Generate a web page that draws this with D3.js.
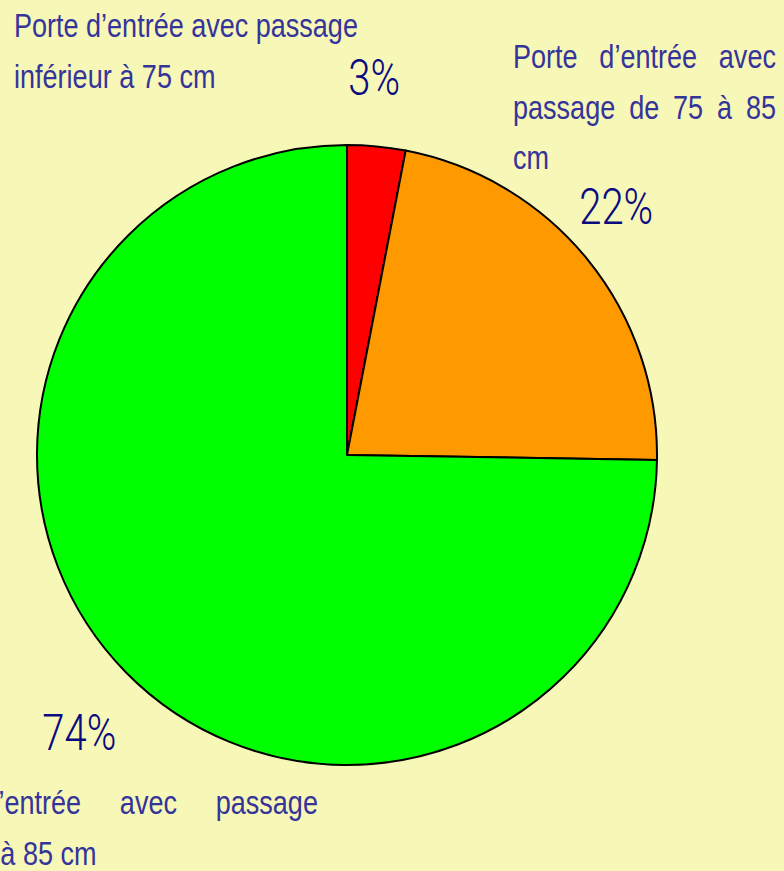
<!DOCTYPE html>
<html>
<head>
<meta charset="utf-8">
<script src="https://cdn.jsdelivr.net/npm/d3@7"></script>
<style>
  html, body { margin: 0; padding: 0; background: #f7f7b7; overflow: hidden; }
  svg { display: block; }
</style>
</head>
<body>
<script>
"use strict";
(function(){
    // data
    const categories = [
        "Porte d’entrée avec passage inférieur à 75 cm",
        "Porte d’entrée avec passage de 75 à 85 cm",
        "Porte d’entrée avec passage supérieur à 85 cm"
    ]
    const values = [3, 22, 74]
    const percentLabels = ["3%", "22%", "74%"]

    // line breaks of each category label, as in the picture
    const labelLines = [
        ["Porte d’entrée avec passage", "inférieur à 75 cm"],
        ["Porte d’entrée avec", "passage de 75 à 85", "cm"],
        ["Porte d’entrée avec passage", "supérieur à 85 cm"]
    ]

    const sliceColors = ["#ff0000", "#ff9900", "#00ff00"]

    const measurements = {
        width: 784,
        height: 871,
        cx: 347,
        cy: 455,
        radius: 310
    }

    // text boxes for the category labels (x, first baseline, box width)
    const labelBoxes = [
        { x: 14, y: 37, w: 344 },
        { x: 513, y: 68, w: 263 },
        { x: -120, y: 814, w: 438 }
    ]
    const lineHeight = 50.5
    const labelFont = "'Liberation Sans', Arial, sans-serif"
    const labelSize = 33
    const squeeze = 0.82   // the original face is a condensed one

    const svgContainer = d3.select("body").append("svg")
        .attr("width", measurements.width)
        .attr("height", measurements.height)

    svgContainer.append("rect")
        .attr("width", measurements.width)
        .attr("height", measurements.height)
        .attr("fill", "#f7f7b7")

    const pie = d3.pie().sort(null).value(d => d)
    const arcs = pie(values)

    const arc = d3.arc()
        .innerRadius(0)
        .outerRadius(measurements.radius)

    const g = svgContainer.append("g")
        .attr("transform", `translate(${measurements.cx},${measurements.cy})`)

    g.selectAll("path.slice")
        .data(arcs)
        .enter()
        .append("path")
        .attr("class", "slice")
        .attr("d", arc)
        .attr("fill", (d, i) => sliceColors[i])
        .attr("stroke", "#000")
        .attr("stroke-width", 2)
        .attr("stroke-linejoin", "round")

    // percent labels sit just outside the pie, near the middle angle
    const labelArc = d3.arc()
        .innerRadius(370)
        .outerRadius(370)
    const nudge = [[-8, -10], [-18, -16], [-4, 17]]

    g.selectAll("text.pct")
        .data(arcs)
        .enter()
        .append("text")
        .attr("class", "pct")
        .attr("transform", (d, i) => {
            const c = labelArc.centroid(d)
            return `translate(${c[0] + nudge[i][0]},${c[1] + nudge[i][1]}) scale(0.8,1)`
        })
        .attr("text-anchor", "middle")
        .attr("dy", "0.36em")
        .attr("fill", "#0a0a80")
        .style("font-family", "Roboto, 'Liberation Sans', sans-serif")
        .style("font-weight", 300)
        .style("font-size", "50px")
        .text((d, i) => percentLabels[i])

    // justified text blocks (last line left aligned)
    function textBlock(lines, box) {
        const block = svgContainer.append("g").attr("class", "label")
        lines.forEach((line, li) => {
            const y = box.y + li * lineHeight
            const words = line.split(" ")
            const isLast = li === lines.length - 1
            const texts = words.map(w => block.append("text")
                .attr("fill", "#34349a")
                .style("font-family", labelFont)
                .style("font-size", labelSize + "px")
                .text(w))
            const widths = texts.map(t => t.node().getComputedTextLength() * squeeze)
            const total = d3.sum(widths)
            const gap = (!isLast && words.length > 1)
                ? (box.w - total) / (words.length - 1)
                : labelSize * 0.278 * squeeze
            let x = box.x
            texts.forEach((t, i) => {
                t.attr("transform", `translate(${x},${y}) scale(${squeeze},1)`)
                x += widths[i] + gap
            })
        })
    }

    categories.forEach((c, i) => textBlock(labelLines[i], labelBoxes[i]))
})()
</script>
</body>
</html>
